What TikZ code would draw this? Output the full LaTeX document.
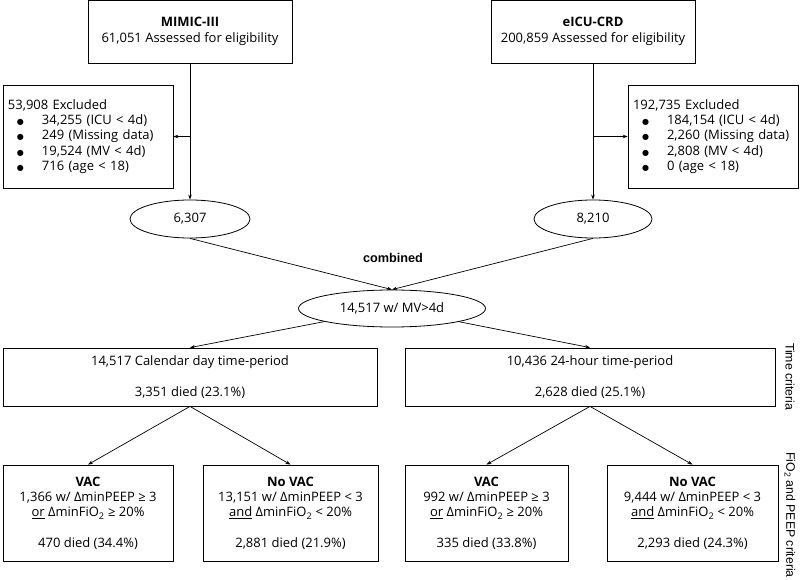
\documentclass[tikz,border=0pt]{standalone}
\usepackage{fontspec}
\setmainfont{Open Sans}
\newfontfamily\arialfont{Liberation Sans}
\newfontfamily\dejafont{DejaVu Sans}
\usetikzlibrary{arrows.meta}
\usetikzlibrary{shapes.geometric}

\newcommand{\exitem}[1]{\\\hspace*{9pt}\makebox[25pt][l]{\dejafont\fontsize{8}{10}\selectfont ●}#1}

\begin{document}
\begin{tikzpicture}[x=1pt,y=-1pt,font=\fontsize{13}{15.3}\selectfont,
    boite/.style={draw, line width=.8pt, inner sep=0pt, align=center},
    exclus/.style={draw, line width=.8pt, inner sep=5pt, text width=160pt, align=left, minimum height=103},
    bulle/.style={draw, ellipse, line width=.8pt, inner sep=0pt},
    fleche/.style={-{Stealth[length=5pt,width=3.6pt]}, line width=.7pt},
    critere/.style={font=\arialfont\fontsize{12.3}{15}\selectfont, rotate=-90, anchor=west, inner sep=0pt}]
    \useasboundingbox (0,0) rectangle (800,580);
    % bases de donnees
    \node[boite, minimum width=204, minimum height=63] (mimic) at (190,31.5) {\textbf{MIMIC-III}\\61,051 Assessed for eligibility};
    \node[boite, minimum width=204, minimum height=63] (eicu) at (593,31.5) {\textbf{eICU-CRD}\\200,859 Assessed for eligibility};
    \node[exclus] (exmimic) at (88,136.5) {53,908 Excluded\exitem{34,255 (ICU < 4d)}\exitem{249 (Missing data)}\exitem{19,524 (MV < 4d)}\exitem{716 (age < 18)}};
    \node[exclus] (exeicu) at (713,136.5) {192,735 Excluded\exitem{184,154 (ICU < 4d)}\exitem{2,260 (Missing data)}\exitem{2,808 (MV < 4d)}\exitem{0 (age < 18)}};
    \node[bulle, minimum width=120, minimum height=38] (n1) at (190,219) {6,307};
    \node[bulle, minimum width=118, minimum height=38] (n2) at (593,219) {8,210};
    \node[bulle, minimum width=187, minimum height=37] (comb) at (392,308.5) {14,517 w/ MV>4d};
    \node[font=\arialfont\bfseries\fontsize{12.7}{15}\selectfont] (combtxt) at (393,258) {combined};
    % periodes
    \node[boite, minimum width=374, minimum height=58] (cal) at (190,377) {14,517 Calendar day time-period\\[15.3pt]3,351 died (23.1\%)};
    \node[boite, minimum width=370, minimum height=58] (hr) at (590,377) {10,436 24-hour time-period\\[15.3pt]2,628 died (25.1\%)};
    % VAC
    \node[boite, minimum width=170, minimum height=96] (vac1) at (88,513) {\textbf{VAC}\\1,366 w/ ΔminPEEP ≥ 3\\\underline{or} ΔminFiO\textsubscript{2} ≥ 20\%\\[15.3pt]470 died (34.4\%)};
    \node[boite, minimum width=175, minimum height=96] (novac1) at (290.5,513) {\textbf{No VAC}\\13,151 w/ ΔminPEEP < 3\\\underline{and} ΔminFiO\textsubscript{2} < 20\%\\[15.3pt]2,881 died (21.9\%)};
    \node[boite, minimum width=163, minimum height=96] (vac2) at (486.5,513) {\textbf{VAC}\\992 w/ ΔminPEEP ≥ 3\\\underline{or} ΔminFiO\textsubscript{2} ≥ 20\%\\[15.3pt]335 died (33.8\%)};
    \node[boite, minimum width=171, minimum height=96] (novac2) at (692.5,513) {\textbf{No VAC}\\9,444 w/ ΔminPEEP < 3\\\underline{and} ΔminFiO\textsubscript{2} < 20\%\\[15.3pt]2,293 died (24.3\%)};
    \node[critere] (tcrit) at (790,343) {Time criteria};
    \node[critere] (fcrit) at (790,452) {FiO\textsubscript{2} and PEEP criteria};
    % fleches
    \draw[fleche] (mimic) -- (n1);
    \draw[fleche] (eicu) -- (n2);
    \draw[fleche] (mimic.south |- exmimic.east) -- (exmimic.east);
    \draw[fleche] (eicu.south |- exeicu.west) -- (exeicu.west);
    \draw[fleche] (n1.south) -- (comb.north);
    \draw[fleche] (n2.south) -- (comb.north);
    \draw[fleche] (comb) -- (cal.north);
    \draw[fleche] (comb) -- (hr.north);
    \draw[fleche] (cal.south) -- (vac1.north);
    \draw[fleche] (cal.south) -- (novac1.north);
    \draw[fleche] (hr.south) -- (vac2.north);
    \draw[fleche] (hr.south) -- (novac2.north);
\end{tikzpicture}
\end{document}
